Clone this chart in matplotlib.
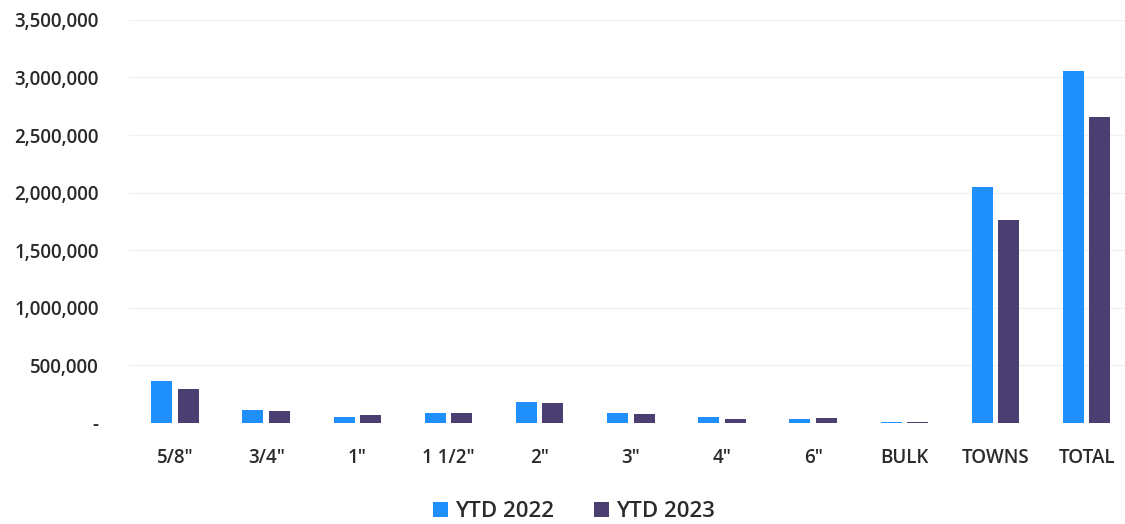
import matplotlib.pyplot as plt
import numpy as np
from matplotlib.ticker import FuncFormatter

plt.rcParams['font.family'] = ['Open Sans', 'DejaVu Sans']

categories = ['5/8"', '3/4"', '1"', '1 1/2"', '2"', '3"', '4"', '6"', 'BULK', 'TOWNS', 'TOTAL']
ytd_2022 = [365000, 113000, 47000, 87000, 183000, 82000, 55000, 32000, 5000, 2052000, 3052000]
ytd_2023 = [296000, 104000, 64000, 82000, 174000, 80000, 35000, 43000, 8000, 1765000, 2661000]

blue = '#1f8ffb'
purple = '#4a3f70'

fig = plt.figure(figsize=(11.25, 5.24), dpi=100)
ax = fig.add_axes([0.115, 0.193, 0.885, 0.769])

x = np.arange(len(categories))
w = 0.23
ax.bar(x - 0.145, ytd_2022, width=w, color=blue, label='YTD 2022')
ax.bar(x + 0.145, ytd_2023, width=w, color=purple, label='YTD 2023')

ax.set_xlim(-0.5, 10.42)
ax.set_ylim(0, 3500000)
ax.set_yticks(np.arange(0, 3500001, 500000))
ax.yaxis.set_major_formatter(FuncFormatter(lambda v, p: '-' if v == 0 else f'{int(v):,}'))
ax.set_xticks(x)
ax.set_xticklabels(categories)
ax.tick_params(axis='both', length=0, labelsize=13.5, colors='#2a2a2a')
ax.tick_params(axis='x', pad=18)
ax.tick_params(axis='y', pad=22)
for lbl in ax.get_xticklabels() + ax.get_yticklabels():
    lbl.set_fontweight('semibold')
ax.grid(axis='y', color='#f0f0f0', linewidth=1)
ax.set_axisbelow(True)
for s in ax.spines.values():
    s.set_visible(False)

leg = fig.legend(loc='lower center', bbox_to_anchor=(0.51, -0.035), ncol=2, frameon=False,
                 fontsize=16, handlelength=0.7, handleheight=0.7, handletextpad=0.3,
                 columnspacing=1.8)
for t in leg.get_texts():
    t.set_color('#2a2a2a')
    t.set_fontweight('semibold')

fig.savefig('out.png', dpi=100)
